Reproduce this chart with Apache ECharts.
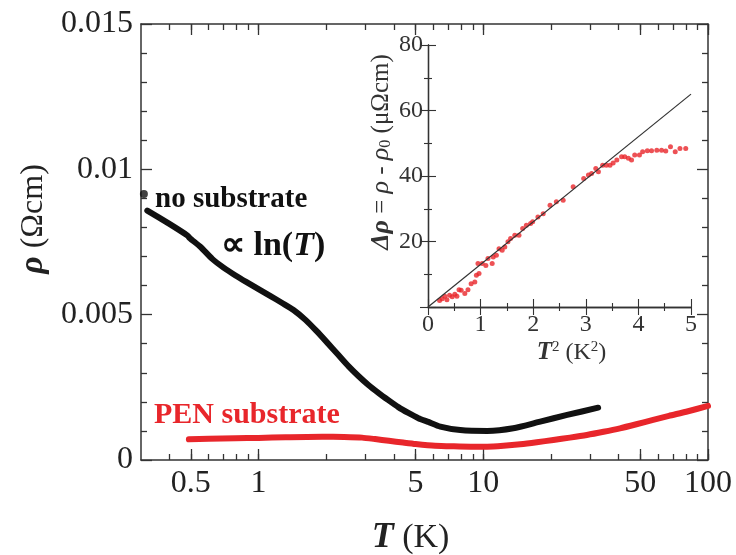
<!DOCTYPE html>
<html><head><meta charset="utf-8">
<script src="https://cdn.jsdelivr.net/npm/echarts@6/dist/echarts.min.js"></script>
<style>html,body{margin:0;padding:0;background:#fff}#c{width:736px;height:555px}</style>
</head><body><div id="c"></div>
<script>
// ---- data ----
const noSubT   = [0.320,0.398,0.4835,0.4935,0.5525,0.6225,0.699,0.790,0.885,1.0,1.131,1.274,1.431,1.618,1.810,2.026,2.268,2.512,2.783,3.083,3.415,3.782,4.190,4.642,5.142,5.696,6.44,7.90,10.42,13.6,17.92,23.62,32.44];
const noSubRho = [0.00858,0.00814,0.00772,0.00764,0.00733,0.00692,0.00662,0.00635,0.00612,0.00588,0.00564,0.00540,0.00516,0.00482,0.00444,0.00403,0.00361,0.00323,0.00289,0.00258,0.00231,0.00206,0.00182,0.00162,0.00144,0.00131,0.00115,0.00103,0.00100,0.00109,0.00132,0.00155,0.00180];
const noSubFirstT = [0.309];
const noSubFirstRho = [0.00915];
const penT   = [0.49,0.6,0.79,1.0,1.32,1.92,2.4,2.89,3.3,3.8,4.4,5.0,6.1,7.4,8.8,10.4,12.3,14.6,17.3,20.5,24.3,28.9,34.3,40.6,48,57,67,80,100];
const penRho = [0.00071,0.00073,0.00075,0.00076,0.00078,0.00080,0.00079,0.00077,0.00072,0.00066,0.00060,0.00055,0.00049,0.00047,0.00046,0.00046,0.00049,0.00054,0.00061,0.00069,0.00077,0.00086,0.00097,0.00109,0.00123,0.00138,0.00152,0.00166,0.00186];
const insetT2 = [0.22,0.27,0.32,0.36,0.41,0.46,0.51,0.55,0.59,0.63,0.70,0.76,0.82,0.89,0.92,0.97,0.95,1.03,1.10,1.14,1.22,1.24,1.30,1.35,1.41,1.46,1.52,1.57,1.65,1.73,1.80,1.87,1.95,1.99,2.09,2.19,2.32,2.44,2.57,2.76,2.96,3.05,3.11,3.19,3.24,3.32,3.39,3.46,3.52,3.59,3.68,3.74,3.81,3.87,3.93,4.02,4.08,4.17,4.25,4.35,4.44,4.52,4.61,4.70,4.79,4.90];
const insetDRho = [2.0,2.5,3.3,2.2,3.6,3.1,3.9,3.3,5.3,5.1,4.1,5.3,7.1,7.6,9.7,10.2,13.3,13.3,12.7,14.8,13.3,15.3,15.8,17.8,17.3,18.3,19.9,20.9,21.9,21.9,24.0,25.0,25.5,26.0,27.5,28.5,31.1,32.1,32.6,36.7,39.2,40.3,40.8,42.3,41.3,43.3,43.3,43.3,44.0,44.9,45.9,45.9,45.4,44.9,46.4,46.4,47.4,47.7,47.7,47.9,47.9,47.6,48.9,47.4,48.4,48.4];
const fitT2 = [0, 5];
const fitDRho = [0, 65];
const xMajorTicks = [0.5, 1, 5, 10, 50, 100];
const xMinorTicks = [0.4,0.5,0.6,0.7,0.8,0.9,1,2,3,4,5,6,7,8,9,10,20,30,40,50,60,70,80,90,100];

// ---- chart ----
const F = '"Liberation Serif", "Times New Roman", serif';
const AX = '#333';
const TX = '#222';
const RED = '#e8262b';
const zip = (a, b) => a.map((v, i) => [v, b[i]]);

function mainX(pos, ticks, len, opts) {
  return Object.assign({
    type: 'log', logBase: 10, gridIndex: 0, position: pos, min: 0.3, max: 100,
    axisLine: { show: true, lineStyle: { color: AX, width: 1.5 } },
    axisTick: { show: true, inside: true, length: len, customValues: ticks, lineStyle: { color: AX, width: 1.3 } },
    axisLabel: { show: false },
    splitLine: { show: false }, minorSplitLine: { show: false }
  }, opts || {});
}
function mainY(pos, opts) {
  return Object.assign({
    type: 'value', gridIndex: 0, position: pos, min: 0, max: 0.015, interval: 0.005,
    axisLine: { show: true, lineStyle: { color: AX, width: 1.5 } },
    axisTick: { show: true, inside: true, length: 11, lineStyle: { color: AX, width: 1.3 } },
    minorTick: { show: true, splitNumber: 5, length: 6, lineStyle: { color: AX, width: 1.3 } },
    axisLabel: { show: false },
    splitLine: { show: false }
  }, opts || {});
}
function insetX(pos, opts) {
  return Object.assign({
    type: 'value', gridIndex: 1, position: pos, min: 0, max: 5, interval: 1,
    axisLine: { show: true, lineStyle: { color: AX, width: 1.3 } },
    axisTick: { show: true, inside: true, length: 8, lineStyle: { color: AX, width: 1.1 } },
    minorTick: { show: true, splitNumber: 2, length: 4, lineStyle: { color: AX, width: 1.1 } },
    axisLabel: { show: false },
    splitLine: { show: false }
  }, opts || {});
}
function insetY(pos, opts) {
  return Object.assign({
    type: 'value', gridIndex: 1, position: pos, min: 0, max: 80, interval: 20,
    axisLine: { show: true, lineStyle: { color: AX, width: 1.3 } },
    axisTick: { show: true, inside: true, length: 8, lineStyle: { color: AX, width: 1.1 } },
    minorTick: { show: true, splitNumber: 2, length: 4, lineStyle: { color: AX, width: 1.1 } },
    axisLabel: { show: false },
    splitLine: { show: false }
  }, opts || {});
}

const chart = echarts.init(document.getElementById('c'), null, { renderer: 'canvas' });
chart.setOption({
  animation: false,
  backgroundColor: '#fff',
  textStyle: { fontFamily: F },
  grid: [
    { left: 141, right: 28, top: 24, bottom: 95, containLabel: false, outerBoundsMode: 'none' },
    { left: 428, right: 45, top: 45, bottom: 248, containLabel: false, outerBoundsMode: 'none',
      show: true, backgroundColor: '#fff', borderWidth: 0 }
  ],
  xAxis: [
    mainX('bottom', xMinorTicks, 6, {
      axisLabel: { show: true, customValues: xMajorTicks, fontFamily: F, fontSize: 32, color: TX, margin: 8,
        formatter: v => String(+(+v).toPrecision(3)) },
      name: '{b|T} (K)', nameLocation: 'middle', nameGap: 60,
      nameTextStyle: { fontFamily: F, fontSize: 34, color: TX, padding: [0, 28, 0, 0],
        rich: { b: { fontFamily: F, fontSize: 36, fontWeight: 'bold', fontStyle: 'italic', color: TX } } }
    }),
    mainX('bottom', xMajorTicks, 11, { axisLine: { show: false } }),
    mainX('top', xMinorTicks, 6),
    mainX('top', xMajorTicks, 11, { axisLine: { show: false } }),
    insetX('bottom', {
      axisLabel: { show: true, fontFamily: F, fontSize: 24, color: '#333', margin: 6 },
      name: '{b|T}{s|2} (K{s|2})', nameLocation: 'middle', nameGap: 33,
      nameTextStyle: { fontFamily: F, fontSize: 24, color: '#333', padding: [0, 0, 0, 24],
        rich: { b: { fontFamily: F, fontSize: 25, fontWeight: 'bold', fontStyle: 'italic', color: '#333' },
                s: { fontFamily: F, fontSize: 15, color: '#333', verticalAlign: 'top', padding: [0, 0, 8, 0] } } }
    }),
    insetX('top')
  ],
  yAxis: [
    mainY('left', {
      axisLabel: { show: true, fontFamily: F, fontSize: 32, color: TX, margin: 8 },
      name: '{b|ρ} (Ωcm)', nameLocation: 'middle', nameGap: 86, nameRotate: 90,
      nameTextStyle: { fontFamily: F, fontSize: 32, color: TX, padding: [0, 0, 0, 46],
        rich: { b: { fontFamily: F, fontSize: 34, fontWeight: 'bold', fontStyle: 'italic', color: TX } } }
    }),
    mainY('right'),
    insetY('left', {
      axisLabel: { show: true, fontFamily: F, fontSize: 24, color: '#333', margin: 5, showMinLabel: false,
        formatter: v => v === 0 ? '' : String(v) },
      name: '{b|Δρ} = {i|ρ} - {i|ρ}{s|0} (μΩcm)', nameLocation: 'middle', nameGap: 34, nameRotate: 90,
      nameTextStyle: { fontFamily: F, fontSize: 25, color: '#333', padding: [0, 0, 0, 48],
        rich: { b: { fontFamily: F, fontSize: 26, fontWeight: 'bold', fontStyle: 'italic', color: '#333' },
                i: { fontFamily: F, fontSize: 26, fontStyle: 'italic', color: '#333' },
                s: { fontFamily: F, fontSize: 16, color: '#333', verticalAlign: 'bottom', padding: [8, 0, 0, 0] } } }
    }),
    insetY('right')
  ],
  series: [
    { type: 'line', xAxisIndex: 0, yAxisIndex: 0, data: zip(noSubT, noSubRho), showSymbol: false,
      smooth: 0.2,
      lineStyle: { color: '#111', width: 6, cap: 'round', join: 'round' }, z: 3 },
    { type: 'scatter', xAxisIndex: 0, yAxisIndex: 0, data: zip(noSubFirstT, noSubFirstRho), symbolSize: 8,
      itemStyle: { color: '#111' }, z: 3 },
    { type: 'line', xAxisIndex: 0, yAxisIndex: 0, data: zip(penT, penRho), showSymbol: false,
      smooth: 0.2,
      lineStyle: { color: RED, width: 6, cap: 'round', join: 'round' }, z: 3 },
    { type: 'scatter', xAxisIndex: 4, yAxisIndex: 2, data: zip(insetT2, insetDRho), symbolSize: 5,
      itemStyle: { color: RED }, z: 4 },
    { type: 'line', xAxisIndex: 4, yAxisIndex: 2, data: zip(fitT2, fitDRho), showSymbol: false,
      lineStyle: { color: '#333', width: 1.2 }, z: 5 }
  ],
  graphic: [
    { type: 'text', left: 155, top: 185, z: 10,
      style: { text: 'no substrate', font: 'bold 29px "Liberation Serif"', fill: '#111' } },
    { type: 'text', left: 221, top: 229, z: 10,
      style: { text: '∝ ln({i|T})', font: 'bold 34px "Liberation Serif"', fill: '#111',
        rich: { i: { font: 'bold italic 34px "Liberation Serif"', fill: '#111' } } } },
    { type: 'text', left: 154, top: 400, z: 10,
      style: { text: 'PEN substrate', font: 'bold 30px "Liberation Serif"', fill: RED } }
  ]
});
</script></body></html>
